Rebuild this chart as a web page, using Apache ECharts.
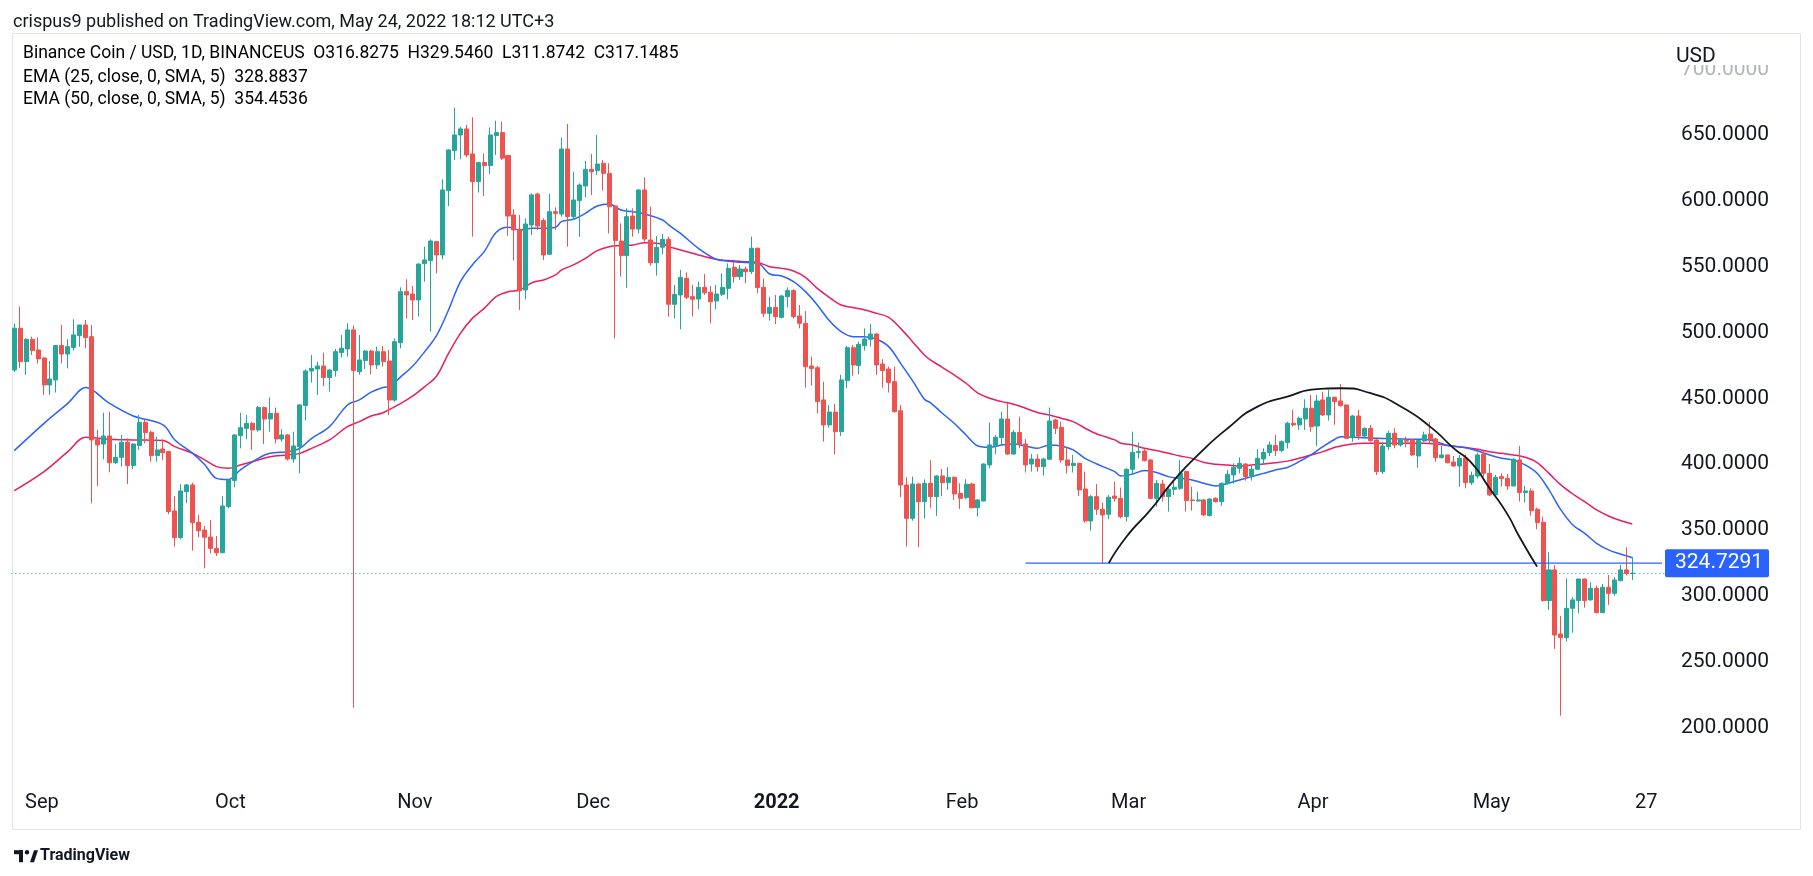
<!DOCTYPE html>
<html><head><meta charset="utf-8">
<script src="https://cdn.jsdelivr.net/npm/echarts@6/dist/echarts.min.js"></script>
<style>html,body{margin:0;padding:0;background:#fff}#c{width:1813px;height:876px}</style>
</head><body><div id="c"></div>
<script>
// ---------- data ----------
const startDate = '2021-08-25';
const emptyDaysAfter = 5;
const open = [
471.6,503.3,477.9,494.9,486.8,480.7,460.2,
464.0,490.1,483.7,488.6,497.7,505.8,496.9,418.9,415.3,421.4,401.1,405.2,416.6,398.9,414.1,431.8,424.2,406.5,411.5,409.5,364.4,344.1,379.1,384.2,355.8,349.9,344.6,336.0,332.7,367.7,
387.5,421.7,427.2,431.0,426.0,443.0,434.3,438.6,419.1,422.2,403.9,413.3,444.5,470.8,472.3,474.6,465.8,471.1,484.8,487.6,502.0,470.3,478.7,486.0,475.4,485.5,478.4,448.7,492.3,531.1,529.3,
524.8,552.4,554.7,569.1,559.0,607.9,638.3,650.2,654.8,635.8,614.7,629.2,626.9,649.7,652.0,634.5,589.4,578.5,532.4,581.8,605.3,585.1,559.5,591.9,590.1,639.5,588.1,600.3,611.4,624.1,
623.1,628.7,621.0,596.2,569.6,558.5,588.6,578.7,608.4,570.4,553.1,564.9,570.9,521.5,528.6,541.2,527.3,525.5,534.4,530.6,524.0,529.1,533.6,549.6,542.5,548.3,546.3,564.1,534.4,514.6,519.2,
511.6,527.3,531.9,512.6,507.0,474.6,473.3,448.8,429.8,439.6,424.7,463.5,488.5,474.9,490.1,494.9,498.9,476.1,472.3,462.7,440.6,384.1,358.8,384.9,371.5,385.4,375.3,391.0,385.9,390.0,377.8,
374.5,384.9,366.9,372.0,399.4,414.1,420.2,434.3,407.7,424.0,415.3,400.1,403.9,398.1,403.7,433.6,428.0,403.2,398.9,400.6,381.1,356.8,375.3,365.7,361.9,375.8,374.0,360.1,
396.1,408.8,410.0,403.2,374.0,384.9,375.3,380.9,381.6,394.3,372.8,372.0,372.8,360.9,374.0,371.5,385.4,391.8,396.8,400.1,391.0,396.1,403.9,408.8,414.1,410.3,416.4,431.1,429.8,434.3,442.5,
429.0,448.8,437.4,450.8,448.0,445.0,420.1,436.6,421.4,427.2,418.4,394.3,413.3,423.4,414.6,418.0,418.4,406.2,417.6,422.9,419.1,404.9,407.0,401.6,398.6,404.7,385.9,391.0,407.7,393.0,
376.6,390.5,389.2,383.4,403.2,378.4,379.6,365.7,355.8,296.3,319.6,270.9,268.1,290.4,296.3,312.7,296.8,305.6,287.1,306.4,301.8,311.4,319.6,316.8275];
const high = [
507.0,519.7,495.7,496.9,496.4,481.2,478.4,
490.6,505.8,494.9,510.1,505.8,509.6,505.8,426.0,439.1,439.9,415.3,422.2,419.6,415.8,437.4,433.6,425.5,420.9,418.9,410.3,375.8,384.7,384.9,385.9,361.4,353.0,357.6,345.4,375.8,388.5,
422.7,439.1,437.4,432.3,444.2,443.7,450.6,443.0,426.5,422.9,424.7,445.5,472.1,483.0,477.9,484.8,472.1,487.6,498.2,507.1,505.3,498.2,486.8,486.8,489.3,489.8,486.8,495.6,534.4,540.5,535.4,
552.6,565.3,570.9,569.6,616.5,639.3,671.0,656.5,657.8,663.6,629.9,636.3,656.0,661.1,660.3,635.0,593.7,589.4,586.8,605.8,606.3,586.8,605.3,595.2,648.2,658.6,622.3,613.4,630.4,635.8,
650.2,631.2,628.7,597.0,583.0,594.4,594.4,609.0,618.0,595.7,573.4,575.0,572.9,536.2,547.6,545.8,536.2,538.7,544.5,535.4,536.2,545.0,552.6,553.9,551.4,550.1,572.9,564.6,541.2,527.3,528.6,
528.6,534.4,532.9,521.0,516.4,481.7,474.6,462.7,444.9,445.7,467.8,489.8,490.6,493.1,503.2,506.5,499.4,479.7,474.1,474.1,445.0,390.0,390.5,385.4,388.4,403.2,391.8,396.3,397.6,390.5,385.4,
388.5,385.9,373.3,400.6,431.6,422.2,439.9,446.3,426.0,436.1,419.1,407.7,407.5,404.9,443.0,434.3,432.3,412.8,407.0,401.1,394.3,376.6,384.9,370.8,376.6,386.7,382.2,396.8,
424.7,416.4,411.3,403.7,388.0,388.0,382.9,386.7,403.2,395.1,382.9,379.1,373.3,374.0,374.8,386.0,395.6,400.6,405.2,400.6,398.6,411.3,412.0,417.1,422.2,418.0,432.3,441.2,436.1,449.3,452.6,
452.6,455.1,456.4,451.3,460.9,445.0,437.4,441.2,428.0,429.8,418.9,417.1,425.5,427.2,419.6,420.9,418.9,418.9,424.7,432.3,420.1,413.8,407.0,406.2,407.0,407.5,394.3,408.8,410.3,400.1,
391.8,393.0,392.5,404.4,413.8,383.4,381.6,366.9,360.1,333.0,323.4,284.6,313.2,298.8,312.9,313.0,310.2,307.7,308.9,315.8,314.0,323.4,336.8,329.546];
const low = [
470.0,472.8,467.8,483.0,476.6,452.6,452.6,
454.4,476.6,472.8,486.3,489.3,488.0,370.2,383.4,403.7,393.8,400.1,398.1,384.9,396.3,410.8,415.8,401.9,401.9,403.2,361.9,337.3,342.9,370.2,334.2,344.4,320.8,332.2,330.2,332.2,366.4,
382.4,412.0,418.9,410.8,424.7,415.3,424.7,415.8,417.1,402.7,401.1,393.0,433.1,462.0,452.6,459.4,455.1,466.5,481.2,481.7,214.9,468.0,472.3,468.5,472.3,474.1,437.3,447.5,488.0,510.8,509.6,
512.1,538.7,500.7,545.0,555.7,596.2,631.2,631.7,633.2,572.9,606.4,603.8,620.5,635.0,631.2,573.4,554.7,517.2,525.3,574.2,578.0,555.2,559.0,578.0,588.1,565.3,585.6,572.9,602.8,604.6,
619.8,607.9,575.4,495.6,542.5,534.1,572.9,575.4,569.1,550.9,543.3,559.7,512.1,510.8,502.5,525.3,512.1,517.7,528.6,507.0,517.7,527.8,525.3,538.0,540.0,537.5,544.5,529.8,511.6,509.1,506.5,
510.8,519.2,510.8,503.2,458.1,459.7,438.6,417.1,427.7,407.7,421.4,457.6,467.3,468.5,486.3,489.3,467.8,458.1,454.4,439.1,374.8,337.3,357.0,336.8,358.8,366.9,360.6,375.8,380.4,372.8,365.9,
373.3,366.4,360.1,371.5,396.8,407.7,413.8,407.0,407.2,412.0,393.6,394.3,394.3,391.3,403.2,422.9,401.1,393.0,393.6,375.8,355.5,349.5,361.4,324.6,358.1,371.5,358.8,356.3,
391.8,404.4,401.9,373.3,367.7,371.5,363.9,376.6,380.4,363.9,364.7,371.5,360.6,360.1,370.8,368.2,384.2,385.4,393.0,387.5,387.5,395.6,399.4,406.2,406.2,409.0,412.0,428.5,426.0,426.0,424.7,
413.8,436.6,433.1,430.0,443.7,418.9,417.1,418.4,419.6,417.1,391.8,392.5,410.8,412.0,413.3,412.8,406.2,397.3,416.6,415.8,401.9,404.4,400.6,398.1,382.9,381.6,384.2,389.2,390.5,375.8,
376.2,382.9,380.4,383.0,371.5,370.8,360.9,350.5,295.5,289.2,259.5,208.8,265.1,271.9,286.6,290.9,296.3,286.6,286.8,293.0,300.0,311.0,315.3,311.8742];
const close = [
503.3,477.9,494.9,486.3,480.0,460.2,464.7,
490.1,483.7,489.3,498.2,505.8,496.2,418.4,414.6,421.4,401.1,405.2,416.6,398.9,415.3,431.8,424.0,406.5,410.8,408.7,363.9,344.1,379.6,384.2,355.5,349.4,344.4,336.0,332.7,368.2,388.0,
422.2,427.7,431.0,426.0,443.0,434.3,438.6,419.1,422.2,403.9,413.8,445.0,470.8,472.8,474.6,465.8,471.6,485.5,488.1,502.0,471.1,479.2,486.0,475.4,485.5,477.9,448.7,493.1,531.1,528.6,524.8,
552.1,555.2,569.6,559.0,608.4,638.8,650.2,654.8,635.0,614.7,629.2,626.9,650.2,652.0,632.5,588.6,578.0,531.9,582.5,604.6,581.0,559.0,591.9,590.6,639.5,588.1,600.8,612.2,624.1,622.3,
628.1,621.0,595.7,569.9,558.5,588.1,578.7,608.4,571.1,553.1,564.8,570.9,521.5,529.1,541.9,526.8,525.3,534.4,530.3,523.5,529.3,534.4,548.8,542.5,548.3,546.3,564.1,534.2,514.6,519.2,512.1,
527.8,531.9,512.1,507.0,474.1,472.6,447.5,429.8,439.6,424.7,464.0,488.5,475.4,491.1,495.1,498.9,475.4,471.1,462.0,439.9,384.1,358.8,384.9,371.5,385.4,375.3,391.0,385.9,390.0,377.3,374.0,
384.7,366.9,372.8,400.1,414.6,420.4,434.3,407.7,424.0,415.1,399.4,403.9,398.1,403.9,432.8,427.2,403.2,398.9,400.6,380.4,356.8,375.3,365.7,361.4,374.8,374.0,360.1,396.1,
409.0,409.5,402.7,374.0,385.4,375.3,380.9,382.4,393.0,372.3,372.3,372.8,361.4,373.5,371.5,385.4,392.3,397.6,400.6,390.5,396.1,404.4,408.8,414.6,410.3,417.1,431.1,429.8,434.8,442.5,428.5,
448.0,437.4,450.8,447.5,444.5,419.6,436.6,421.4,427.2,417.9,394.3,413.8,423.4,414.6,418.4,417.4,407.0,417.9,422.2,418.4,404.9,407.0,401.1,398.6,404.4,385.9,391.5,407.0,393.0,376.6,
390.0,389.0,383.4,403.7,378.4,379.6,364.7,355.5,296.3,319.6,270.1,268.1,290.4,296.8,312.7,296.3,305.6,287.1,306.4,301.8,311.9,319.6,316.8,317.1485];

const ema25Pts = [
['2021-08-25',410.3],['2021-08-30',431.0],['2021-09-03',446.2],['2021-09-06',458.2],['2021-09-10',446.2],['2021-09-14',436.6],['2021-09-19',429.8],['2021-09-21',418.4],['2021-09-24',408.2],['2021-09-26',399.7],['2021-09-28',389.2],['2021-09-30',388.3],
['2021-10-02',395.6],['2021-10-05',404.4],['2021-10-07',408.2],['2021-10-10',409.5],['2021-10-12',412.0],['2021-10-14',419.6],['2021-10-17',428.5],['2021-10-20',445.0],['2021-10-22',448.8],['2021-10-24',454.8],['2021-10-26',458.3],['2021-10-27',458.9],['2021-10-29',466.5],['2021-10-31',474.6],
['2021-11-02',485.5],['2021-11-04',497.9],['2021-11-06',517.2],['2021-11-08',538.7],['2021-11-10',551.4],['2021-11-12',561.5],['2021-11-14',576.0],['2021-11-16',580.0],['2021-11-18',578.0],['2021-11-20',579.2],['2021-11-22',579.2],['2021-11-24',580.0],['2021-11-25',584.3],['2021-11-27',586.1],['2021-11-29',590.6],
['2021-12-01',596.2],['2021-12-03',597.7],['2021-12-05',593.2],['2021-12-07',591.9],['2021-12-09',590.1],['2021-12-12',585.6],['2021-12-13',581.8],['2021-12-15',575.4],['2021-12-18',564.0],['2021-12-21',555.7],['2021-12-23',554.3],['2021-12-26',553.2],['2021-12-28',552.7],['2021-12-30',544.5],
['2022-01-01',543.0],['2022-01-03',538.7],['2022-01-05',531.1],['2022-01-07',521.0],['2022-01-09',509.1],['2022-01-11',500.7],['2022-01-13',496.9],['2022-01-15',496.9],['2022-01-17',494.9],['2022-01-19',489.3],['2022-01-21',476.6],['2022-01-23',463.5],['2022-01-25',449.3],['2022-01-26',446.8],['2022-01-28',438.7],['2022-01-30',431.1],
['2022-02-01',422.2],['2022-02-03',413.8],['2022-02-05',412.8],['2022-02-07',414.6],['2022-02-09',415.3],['2022-02-11',413.8],['2022-02-13',412.0],['2022-02-15',414.6],['2022-02-17',413.8],['2022-02-19',410.8],['2022-02-21',404.4],['2022-02-23',400.1],['2022-02-24',398.1],['2022-02-26',394.3],['2022-02-27',391.0],
['2022-03-01',392.5],['2022-03-03',395.1],['2022-03-05',393.6],['2022-03-07',390.5],['2022-03-09',389.2],['2022-03-11',388.0],['2022-03-13',385.4],['2022-03-15',383.4],['2022-03-17',385.4],['2022-03-19',388.0],['2022-03-21',390.5],['2022-03-23',393.0],['2022-03-25',395.5],['2022-03-27',397.5],['2022-03-29',401.9],['2022-03-31',407.0],
['2022-04-02',413.3],['2022-04-04',418.9],['2022-04-05',420.9],['2022-04-07',420.4],['2022-04-09',420.1],['2022-04-11',419.6],['2022-04-13',419.4],['2022-04-15',419.1],['2022-04-17',418.9],['2022-04-19',418.9],['2022-04-21',417.1],['2022-04-23',414.2],['2022-04-26',412.4],['2022-04-28',410.0],['2022-04-30',407.0],
['2022-05-02',404.4],['2022-05-04',403.2],['2022-05-06',399.4],['2022-05-08',393.0],['2022-05-10',380.4],['2022-05-12',365.2],['2022-05-14',353.8],['2022-05-16',347.4],['2022-05-18',339.8],['2022-05-20',334.8],['2022-05-22',331.7],['2022-05-24',328.9]];

const ema50Pts = [
['2021-08-25',379.8],['2021-08-30',394.3],['2021-09-03',409.5],['2021-09-06',420.4],['2021-09-10',418.9],['2021-09-14',418.4],['2021-09-19',417.9],['2021-09-21',413.3],['2021-09-24',408.2],['2021-09-26',403.2],['2021-09-28',398.1],['2021-09-30',396.8],
['2021-10-02',399.4],['2021-10-05',403.2],['2021-10-07',405.7],['2021-10-10',407.0],['2021-10-12',408.2],['2021-10-14',412.0],['2021-10-17',418.4],['2021-10-20',428.5],['2021-10-22',432.3],['2021-10-24',436.6],['2021-10-26',439.1],['2021-10-29',446.2],['2021-10-31',451.8],
['2021-11-02',458.9],['2021-11-04',467.0],['2021-11-06',484.2],['2021-11-08',499.4],['2021-11-10',510.8],['2021-11-12',518.4],['2021-11-14',527.3],['2021-11-16',531.1],['2021-11-18',532.4],['2021-11-20',537.9],['2021-11-22',540.0],['2021-11-24',543.8],['2021-11-25',547.6],['2021-11-27',551.4],['2021-11-29',556.4],
['2021-12-01',562.3],['2021-12-03',565.3],['2021-12-05',566.1],['2021-12-07',566.6],['2021-12-09',568.3],['2021-12-12',567.3],['2021-12-13',565.3],['2021-12-15',562.8],['2021-12-18',559.0],['2021-12-21',555.7],['2021-12-23',554.7],['2021-12-26',553.9],['2021-12-28',553.2],['2021-12-30',550.1],
['2022-01-01',548.8],['2022-01-03',546.8],['2022-01-05',542.0],['2022-01-07',533.6],['2022-01-09',526.8],['2022-01-11',521.0],['2022-01-13',519.0],['2022-01-15',517.2],['2022-01-17',514.6],['2022-01-19',511.6],['2022-01-21',503.2],['2022-01-23',493.1],['2022-01-25',483.0],['2022-01-26',479.2],['2022-01-28',473.6],['2022-01-30',467.8],
['2022-02-01',461.5],['2022-02-03',453.9],['2022-02-05',450.1],['2022-02-07',447.5],['2022-02-09',445.5],['2022-02-11',442.5],['2022-02-13',439.2],['2022-02-15',437.4],['2022-02-17',434.9],['2022-02-19',432.3],['2022-02-21',427.3],['2022-02-23',422.9],['2022-02-24',421.5],['2022-02-26',418.4],['2022-02-27',415.9],
['2022-03-01',414.6],['2022-03-03',412.0],['2022-03-05',410.3],['2022-03-07',408.3],['2022-03-09',406.2],['2022-03-11',404.4],['2022-03-13',401.2],['2022-03-15',399.9],['2022-03-17',399.4],['2022-03-19',398.6],['2022-03-21',399.4],['2022-03-23',400.1],['2022-03-25',401.0],['2022-03-27',402.3],['2022-03-29',404.4],['2022-03-31',407.0],
['2022-04-02',409.5],['2022-04-04',412.8],['2022-04-05',413.8],['2022-04-07',415.3],['2022-04-09',415.8],['2022-04-11',415.8],['2022-04-13',415.8],['2022-04-15',415.8],['2022-04-17',415.8],['2022-04-19',415.8],['2022-04-21',415.3],['2022-04-23',414.2],['2022-04-26',412.6],['2022-04-28',411.3],['2022-04-30',409.5],
['2022-05-02',408.2],['2022-05-04',407.0],['2022-05-06',405.2],['2022-05-08',401.2],['2022-05-10',393.0],['2022-05-12',384.2],['2022-05-14',377.3],['2022-05-16',371.5],['2022-05-18',365.2],['2022-05-20',360.6],['2022-05-22',357.1],['2022-05-24',354.5]];

const arcPts = [
['2022-02-25',324.7],['2022-02-28',345.0],['2022-03-04',365.2],['2022-03-08',388.0],['2022-03-12',407.0],['2022-03-17',427.3],['2022-03-22',443.7],['2022-03-27',451.3],
['2022-04-01',457.0],['2022-04-05',457.7],['2022-04-10',453.9],['2022-04-15',444.0],['2022-04-20',428.5],['2022-04-24',412.0],['2022-04-27',400.7],['2022-04-30',381.7],['2022-05-03',362.0],['2022-05-05',345.0],['2022-05-08',322.1]];

const levelStart = '2022-02-11';
const levelValue = 324.7291;
const lastPrice = 317.1485;
const monthNames = ['Jan','Feb','Mar','Apr','May','Jun','Jul','Aug','Sep','Oct','Nov','Dec'];
const extraTick = '2022-05-27';
const fadedTick = 700;
const legend = {
  author: 'crispus9 published on TradingView.com, May 24, 2022 18:12 UTC+3',
  symbol: 'Binance Coin / USD, 1D, BINANCEUS',
  ohlc: ['316.8275','329.5460','311.8742','317.1485'],
  ema25: ['EMA (25, close, 0, SMA, 5)','328.8837'],
  ema50: ['EMA (50, close, 0, SMA, 5)','354.4536']
};

// ---------- categories ----------
const dates = [];
{
  const d0 = new Date(startDate + 'T00:00:00Z');
  const n = close.length + emptyDaysAfter;
  for (let i = 0; i < n; i++) {
    const d = new Date(d0.getTime() + i * 86400000);
    dates.push(d.toISOString().slice(0, 10));
  }
}
const candles = close.map((c, i) => [open[i], c, low[i], high[i]]);

const GREEN = '#26a69a', RED = '#ef5350', TXT = '#131722';
const FONT = 'Roboto, "Noto Sans", sans-serif';
const AX = 21;

const chart = echarts.init(document.getElementById('c'));
const option = {
  animation: false,
  backgroundColor: '#ffffff',
  grid: { left: 11.3, right: 148, top: 33, bottom: 99, containLabel: false },
  xAxis: {
    type: 'category', data: dates, boundaryGap: true,
    axisLine: { show: false }, axisTick: { show: false }, splitLine: { show: false },
    axisLabel: {
      margin: 16, fontSize: 20, color: TXT, fontFamily: FONT,
      interval: (i, v) => v.slice(8) === '01' || v === extraTick,
      formatter: (v) => {
        if (v === extraTick) return '{n|27}';
        const m = +v.slice(5, 7);
        if (m === 1) return '{b|' + v.slice(0, 4) + '}';
        if (m === 9) return '{s|Sep}';
        return '{n|' + monthNames[m - 1] + '}';
      },
      rich: {
        n: { fontSize: 20, color: TXT, fontFamily: FONT, padding: [0, 8, 0, 0] },
        s: { fontSize: 20, color: TXT, fontFamily: FONT, padding: [0, 28, 0, 0] },
        b: { fontWeight: 'bold', fontSize: 20, color: TXT, fontFamily: FONT, padding: [0, 10, 0, 0] }
      }
    }
  },
  yAxis: {
    type: 'value', position: 'right', min: 162.2, max: 727.7, splitNumber: 11, scale: true,
    axisLine: { show: false }, axisTick: { show: false }, splitLine: { show: false },
    axisLabel: {
      margin: 16, fontSize: AX, color: TXT, fontFamily: FONT,
      formatter: (v) => {
        if (Math.abs(v % 50) > 1e-6) return '';
        return Math.abs(v - fadedTick) < 1e-6 ? '{f|' + v.toFixed(4) + '}' : v.toFixed(4);
      },
      rich: { f: { fontSize: AX, color: '#b2b5be', fontFamily: FONT } }
    }
  },
  series: [
    {
      type: 'line', name: 'EMA50', data: ema50Pts, smooth: 0.35, symbol: 'none',
      lineStyle: { color: '#e91e63', width: 1.5 }, z: 2
    },
    {
      type: 'line', name: 'EMA25', data: ema25Pts, smooth: 0.35, symbol: 'none',
      lineStyle: { color: '#2962ff', width: 1.5 }, z: 3
    },
    {
      type: 'candlestick', name: 'BNB', data: candles, barWidth: '76%', z: 4,
      itemStyle: { color: GREEN, color0: RED, borderColor: GREEN, borderColor0: RED, borderWidth: 1 },
      markLine: {
        silent: true, symbol: 'none', label: { show: false },
        lineStyle: { color: GREEN, type: [1, 3], width: 1 },
        data: [{ yAxis: lastPrice }]
      }
    },
    {
      type: 'line', name: 'level', data: [[levelStart, levelValue], [dates[dates.length - 1], levelValue]],
      symbol: 'none', lineStyle: { color: '#2962ff', width: 1.2 }, z: 5
    },
    {
      type: 'line', name: 'arc', data: arcPts, smooth: 0.6, symbol: 'none',
      lineStyle: { color: '#131722', width: 1.8 }, z: 6
    }
  ]
};
chart.setOption(option);

const yLevel = chart.convertToPixel({ yAxisIndex: 0 }, levelValue);
const HF = 17.5;
const rich = {
  t: { fontSize: HF, color: TXT, fontFamily: FONT },
  g: { fontSize: HF, color: GREEN, fontFamily: FONT },
  b: { fontSize: HF, color: '#2962ff', fontFamily: FONT },
  r: { fontSize: HF, color: '#e91e63', fontFamily: FONT }
};
const graphics = [
  { type: 'rect', shape: { x: 12.5, y: 33.5, width: 1788, height: 796 }, style: { fill: 'none', stroke: '#e0e3eb', lineWidth: 1 }, silent: true },
  { type: 'text', left: 13, top: 13, style: { text: legend.author, font: '18px ' + FONT, fill: '#131722' } },
  { type: 'text', left: 23, top: 45, style: { rich: rich, text:
      '{t|' + legend.symbol + '  O}{g|' + legend.ohlc[0] + '}{t|  H}{g|' + legend.ohlc[1] + '}{t|  L}{g|' + legend.ohlc[2] + '}{t|  C}{g|' + legend.ohlc[3] + '}' } },
  { type: 'text', left: 23, top: 68.5, style: { rich: rich, text: '{t|' + legend.ema25[0] + '  }{b|' + legend.ema25[1] + '}' } },
  { type: 'text', left: 23, top: 91, style: { rich: rich, text: '{t|' + legend.ema50[0] + '  }{r|' + legend.ema50[1] + '}' } },
  { type: 'rect', shape: { x: 1667, y: 35, width: 132, height: 30 }, style: { fill: '#ffffff' }, z: 20 },
  { type: 'text', left: 1676, top: 46, style: { text: 'USD', font: AX + 'px ' + FONT, fill: TXT }, z: 21 },
  { type: 'rect', shape: { x: 1665, y: yLevel - 14, width: 104, height: 28, r: 2 }, style: { fill: '#2962ff' }, z: 10 },
  { type: 'text', x: 1675, y: yLevel, style: { text: String(levelValue), font: AX + 'px ' + FONT, fill: '#ffffff', textVerticalAlign: 'middle' }, z: 11 },
  // TradingView logo
  { type: 'group', left: 14, top: 850, children: [
      { type: 'rect', shape: { x: 0, y: 1, width: 9, height: 4 }, style: { fill: TXT } },
      { type: 'rect', shape: { x: 5, y: 1, width: 4, height: 12 }, style: { fill: TXT } },
      { type: 'circle', shape: { cx: 13, cy: 3, r: 2.2 }, style: { fill: TXT } },
      { type: 'polygon', shape: { points: [[16, 13], [20, 1], [24, 1], [20, 13]] }, style: { fill: TXT } }
  ] },
  { type: 'text', left: 40, top: 848, style: { text: 'TradingView', font: 'bold 16px ' + FONT, fill: TXT } }
];
chart.setOption({ graphic: graphics });
</script>
</body></html>
